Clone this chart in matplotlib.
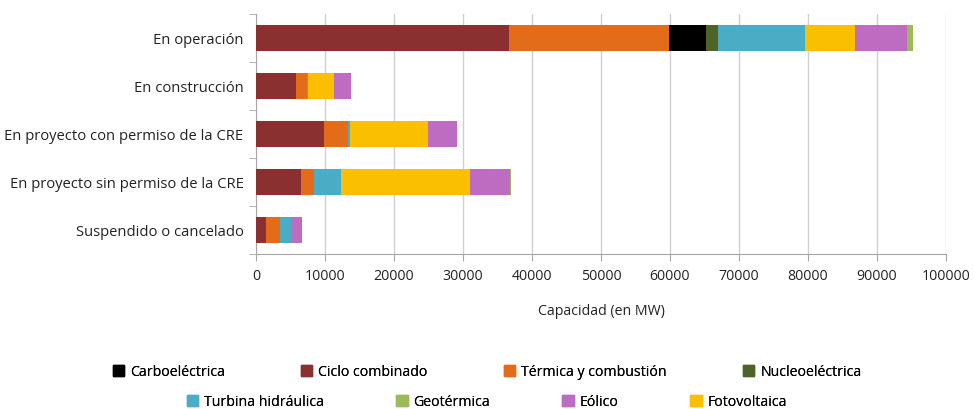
import matplotlib.pyplot as plt
from matplotlib.patches import Patch

plt.rcParams.update({'font.family': 'Open Sans', 'font.size': 10.2})

# Categories (top to bottom):
categories = ["En operación", "En construcción", "En proyecto con permiso de la CRE",
              "En proyecto sin permiso de la CRE", "Suspendido o cancelado"]

# Capacity (MW) per technology, same order as categories:
ciclo_combinado = [36600, 5750, 9870, 6550, 1500]
termica = [23300, 1590, 3520, 1800, 1990]
carboelectrica = [5350, 0, 0, 0, 0]
nucleoelectrica = [1660, 0, 0, 0, 0]
turbina = [12700, 200, 260, 3980, 1590]
fotovoltaica = [7240, 3790, 11300, 18680, 0]
eolico = [7450, 2390, 4120, 5780, 1600]
geotermica = [930, 0, 130, 130, 0]

# Stacking order and colours:
series = [
    ("Ciclo combinado", ciclo_combinado, "#8B3030"),
    ("Térmica y combustión", termica, "#E36C1B"),
    ("Carboeléctrica", carboelectrica, "#000000"),
    ("Nucleoeléctrica", nucleoelectrica, "#4F6228"),
    ("Turbina hidráulica", turbina, "#4BACC6"),
    ("Fotovoltaica", fotovoltaica, "#FAC000"),
    ("Eólico", eolico, "#BD6CC1"),
    ("Geotérmica", geotermica, "#9BBB59"),
]
colors = {name: c for name, _, c in series}

fig = plt.figure(figsize=(9.74, 4.09), dpi=100)
ax = fig.add_axes([256 / 974, 1 - 254 / 409, (946 - 256) / 974, 240 / 409])

y = list(range(len(categories)))
left = [0] * len(categories)
for name, vals, col in series:
    ax.barh(y, vals, left=left, height=0.56, color=col, zorder=3)
    left = [a + b for a, b in zip(left, vals)]

ax.set_ylim(len(categories) - 0.5, -0.5)
ax.set_xlim(0, 100000)
ax.set_xticks(range(0, 100001, 10000))
ax.set_yticks(y)
ax.set_yticklabels(categories, color="#222222", fontsize=10.6)
ax.tick_params(axis="y", length=0, pad=9)
ax.set_yticks([i - 0.5 for i in range(len(categories) + 1)], minor=True)
ax.tick_params(axis="y", which="minor", length=5, color="#A6A6A6")
ax.tick_params(axis="x", length=5, color="#A6A6A6", labelcolor="#222222", pad=6)
ax.grid(axis="x", color="#D0D0D0", linewidth=1, zorder=0)
ax.spines[['right', 'top']].set_visible(False)
ax.spines['left'].set_color("#A6A6A6")
ax.spines['bottom'].set_color("#A6A6A6")
ax.set_xlabel("Capacidad (en MW)", labelpad=14, color="#222222")

# Legend in two centred rows, as in the original:
row1 = ["Carboeléctrica", "Ciclo combinado", "Térmica y combustión", "Nucleoeléctrica"]
row2 = ["Turbina hidráulica", "Geotérmica", "Eólico", "Fotovoltaica"]
for row, ypos, spacing in [(row1, 372 / 409, 5.4), (row2, 402 / 409, 5.1)]:
    handles = [Patch(color=colors[n], label=n) for n in row]
    leg = fig.legend(handles=handles, ncol=4, loc="center", bbox_to_anchor=(0.5, 1 - ypos),
                     frameon=False, handlelength=0.8, handleheight=0.8, handletextpad=0.4,
                     columnspacing=spacing, fontsize=10.2)
    fig.add_artist(leg)

fig.savefig("out.png", dpi=100)
